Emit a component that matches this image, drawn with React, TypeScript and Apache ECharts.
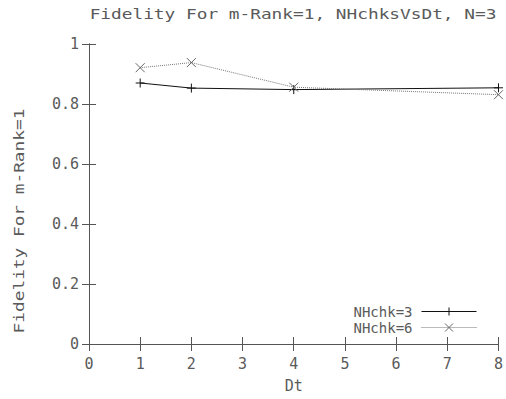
import React, { useEffect, useRef } from "react";
import * as echarts from "echarts";

const titleText = "Fidelity For m-Rank=1, NHchksVsDt, N=3";
const xName = "Dt";
const yName = "Fidelity For m-Rank=1";
const dtValues = [1, 2, 4, 8];
const seriesNames = ["NHchk=3", "NHchk=6"];
const nhchk3 = [0.87, 0.853, 0.848, 0.854];
const nhchk6 = [0.921, 0.938, 0.856, 0.831];

const FONT = "DejaVu Sans Mono";
const TEXT = "#5a5a5a";
const AXIS = "#555555";
const SOLID = "#111111";
const DOT = "#777777";

export default function App() {
  const ref = useRef<HTMLDivElement>(null);
  useEffect(() => {
    if (!ref.current) return;
    const chart = echarts.init(ref.current, null, { renderer: "svg" });
    const tick = { show: true, inside: true, length: 7, lineStyle: { color: AXIS, width: 1 } };
    const line = { show: true, lineStyle: { color: AXIS, width: 1 } };
    chart.setOption({
      animation: false,
      backgroundColor: "#ffffff",
      grid: { left: 89, right: 7, top: 44, bottom: 55, containLabel: false },
      graphic: [
        {
          type: "text",
          x: 293,
          y: 14,
          scaleX: 1.27,
          style: { text: titleText, x: 0, y: 0, align: "center", verticalAlign: "middle", fontFamily: FONT, fontSize: 14, fill: TEXT },
        },
        {
          type: "text",
          x: 19,
          y: 221,
          rotation: Math.PI / 2,
          scaleX: 1.27,
          style: { text: yName, x: 0, y: 0, align: "center", verticalAlign: "middle", fontFamily: FONT, fontSize: 14, fill: TEXT },
        },
      ],
      legend: {
        orient: "vertical",
        right: 29,
        top: 304,
        padding: 0,
        align: "right",
        itemWidth: 55,
        itemHeight: 10,
        itemGap: 1,
        textStyle: { fontFamily: FONT, fontSize: 14, lineHeight: 15, color: TEXT, padding: [0, 4, 0, 0] },
        data: [
          { name: seriesNames[0], lineStyle: { width: 1, type: "solid", color: SOLID }, itemStyle: { borderWidth: 1, borderColor: SOLID } },
          { name: seriesNames[1], lineStyle: { width: 1, type: "dotted", color: DOT }, itemStyle: { borderWidth: 1, borderColor: "#666666" } },
        ],
      },
      xAxis: [
        {
          type: "value",
          min: 0,
          max: 8,
          interval: 1,
          position: "bottom",
          name: xName,
          nameLocation: "middle",
          nameGap: 34,
          nameTextStyle: { fontFamily: FONT, fontSize: 15, color: TEXT },
          axisLine: line,
          axisTick: tick,
          splitLine: { show: false },
          axisLabel: { fontFamily: FONT, fontSize: 15, color: TEXT, margin: 12 },
        },
        {
          type: "value",
          min: 0,
          max: 8,
          interval: 1,
          position: "top",
          axisLine: line,
          axisTick: tick,
          splitLine: { show: false },
          axisLabel: { show: false },
        },
      ],
      yAxis: [
        {
          type: "value",
          min: 0,
          max: 1,
          interval: 0.2,
          position: "left",
          axisLine: line,
          axisTick: tick,
          splitLine: { show: false },
          axisLabel: { fontFamily: FONT, fontSize: 15, color: TEXT, margin: 10 },
        },
        {
          type: "value",
          min: 0,
          max: 1,
          interval: 0.2,
          position: "right",
          axisLine: line,
          axisTick: tick,
          splitLine: { show: false },
          axisLabel: { show: false },
        },
      ],
      series: [
        {
          name: seriesNames[0],
          type: "line",
          data: dtValues.map((x, i) => [x, nhchk3[i]]),
          symbol: "path://M0,5L10,5M5,0L5,10",
          symbolSize: 9,
          itemStyle: { color: "transparent", borderColor: SOLID, borderWidth: 1 },
          lineStyle: { color: SOLID, width: 1, type: "solid" },
        },
        {
          name: seriesNames[1],
          type: "line",
          data: dtValues.map((x, i) => [x, nhchk6[i]]),
          symbol: "path://M0,0L10,10M10,0L0,10",
          symbolSize: 9,
          itemStyle: { color: "transparent", borderColor: "#666666", borderWidth: 1 },
          lineStyle: { color: DOT, width: 1, type: "dotted" },
        },
      ],
    });
    return () => chart.dispose();
  }, []);
  return <div ref={ref} style={{ width: 506, height: 399, position: "absolute", left: 0, top: 0 }} />;
}
